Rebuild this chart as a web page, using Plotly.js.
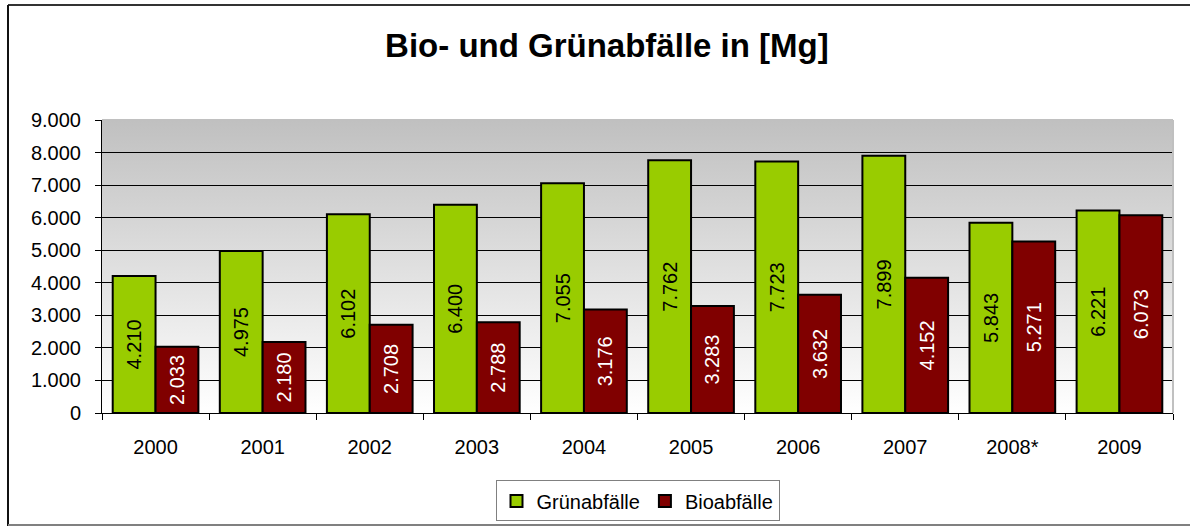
<!DOCTYPE html>
<html>
<head>
<meta charset="utf-8">
<script src="https://cdn.plot.ly/plotly-3.0.1.min.js"></script>
<style>
html,body{margin:0;padding:0;background:#fff;}
#chart{width:1190px;height:527px;}
</style>
</head>
<body>
<div id="chart"></div>
<script>
var categories = ["2000","2001","2002","2003","2004","2005","2006","2007","2008*","2009"];
var gruenabfaelle = [4210,4975,6102,6400,7055,7762,7723,7899,5843,6221];
var bioabfaelle = [2033,2180,2708,2788,3176,3283,3632,4152,5271,6073];
var yTicks = [0,1000,2000,3000,4000,5000,6000,7000,8000,9000];

var FONT = "Arial, 'Liberation Sans', sans-serif";

var grad = '<svg xmlns="http://www.w3.org/2000/svg" width="10" height="100" preserveAspectRatio="none">' +
  '<defs><linearGradient id="g" x1="0" y1="0" x2="0" y2="1">' +
  '<stop offset="0" stop-color="#c0c0c0"/><stop offset="1" stop-color="#ffffff"/>' +
  '</linearGradient></defs><rect width="10" height="100" fill="url(#g)"/></svg>';
var gradUri = 'data:image/svg+xml;charset=utf-8,' + encodeURIComponent(grad);

var traces = [
  {
    type: 'bar', name: 'Grünabfälle', x: categories, y: gruenabfaelle,
    marker: {color: '#99cc00', line: {color: '#000000', width: 2}},
    texttemplate: '%{y:,d}', textposition: 'inside', insidetextanchor: 'middle',
    textangle: -90, constraintext: 'none',
    textfont: {family: FONT, size: 20, color: '#000000'},
    hoverinfo: 'skip'
  },
  {
    type: 'bar', name: 'Bioabfälle', x: categories, y: bioabfaelle,
    marker: {color: '#800000', line: {color: '#000000', width: 2}},
    texttemplate: '%{y:,d}', textposition: 'inside', insidetextanchor: 'middle',
    textangle: -90, constraintext: 'none',
    textfont: {family: FONT, size: 20, color: '#ffffff'},
    hoverinfo: 'skip'
  }
];

var layout = {
  width: 1190, height: 527,
  margin: {l: 102, r: 17, t: 120, b: 114, pad: 0, autoexpand: false},
  paper_bgcolor: '#ffffff',
  plot_bgcolor: 'rgba(0,0,0,0)',
  separators: ',.',
  font: {family: FONT, size: 20, color: '#000000'},
  title: {
    text: '<b>Bio- und Grünabfälle in [Mg]</b>',
    font: {family: FONT, size: 33, color: '#000000'},
    x: 0.51, xref: 'container', xanchor: 'center',
    y: 1 - 45 / 527, yref: 'container', yanchor: 'middle'
  },
  barmode: 'group', bargap: 0.2, bargroupgap: 0,
  xaxis: {
    type: 'category',
    showline: true, linecolor: '#000000', linewidth: 1,
    ticks: 'outside', tickson: 'boundaries', ticklen: 6, tickcolor: '#000000',
    showgrid: false, ticklabelstandoff: 16,
    tickfont: {family: FONT, size: 20, color: '#000000'}
  },
  yaxis: {
    range: [0, 9000], tickvals: yTicks, tickformat: ',d',
    showline: true, linecolor: '#000000', linewidth: 1,
    ticks: 'outside', ticklen: 6, tickcolor: '#000000',
    showgrid: true, gridcolor: '#000000', gridwidth: 1,
    zeroline: false, ticklabelstandoff: 10,
    tickfont: {family: FONT, size: 20, color: '#000000'},
    fixedrange: true
  },
  images: [{
    source: gradUri, xref: 'paper', yref: 'paper',
    x: 0, y: 1, sizex: 1, sizey: 1, sizing: 'stretch',
    xanchor: 'left', yanchor: 'top', layer: 'below'
  }],
  shapes: [
    {type: 'line', xref: 'paper', yref: 'paper', x0: 0, x1: 1, y0: 1, y1: 1,
     line: {color: '#c0c0c0', width: 2}, layer: 'above'},
    {type: 'line', xref: 'paper', yref: 'paper', x0: 1, x1: 1, y0: 0, y1: 1,
     line: {color: '#c0c0c0', width: 2}, layer: 'above'},
    {type: 'line', xref: 'paper', yref: 'paper', x0: -94/1071, x1: 1.1, y0: 1 + 115/293, y1: 1 + 115/293,
     line: {color: '#333333', width: 2}},
    {type: 'line', xref: 'paper', yref: 'paper', x0: -94/1071, x1: -94/1071, y0: -113/293, y1: 1 + 115/293,
     line: {color: '#111111', width: 2}},
    {type: 'line', xref: 'paper', yref: 'paper', x0: -94/1071, x1: 1.1, y0: -112/293, y1: -112/293,
     line: {color: '#808080', width: 2}}
  ],
  showlegend: true,
  legend: {
    orientation: 'h', x: 0.5, xanchor: 'center', y: -0.30, yanchor: 'middle',
    bordercolor: '#808080', borderwidth: 1, bgcolor: '#ffffff',
    font: {family: FONT, size: 20, color: '#000000'},
    itemwidth: 30, tracegroupgap: 0, traceorder: 'normal'
  }
};

Plotly.newPlot('chart', traces, layout, {staticPlot: true, displayModeBar: false});
</script>
</body>
</html>
